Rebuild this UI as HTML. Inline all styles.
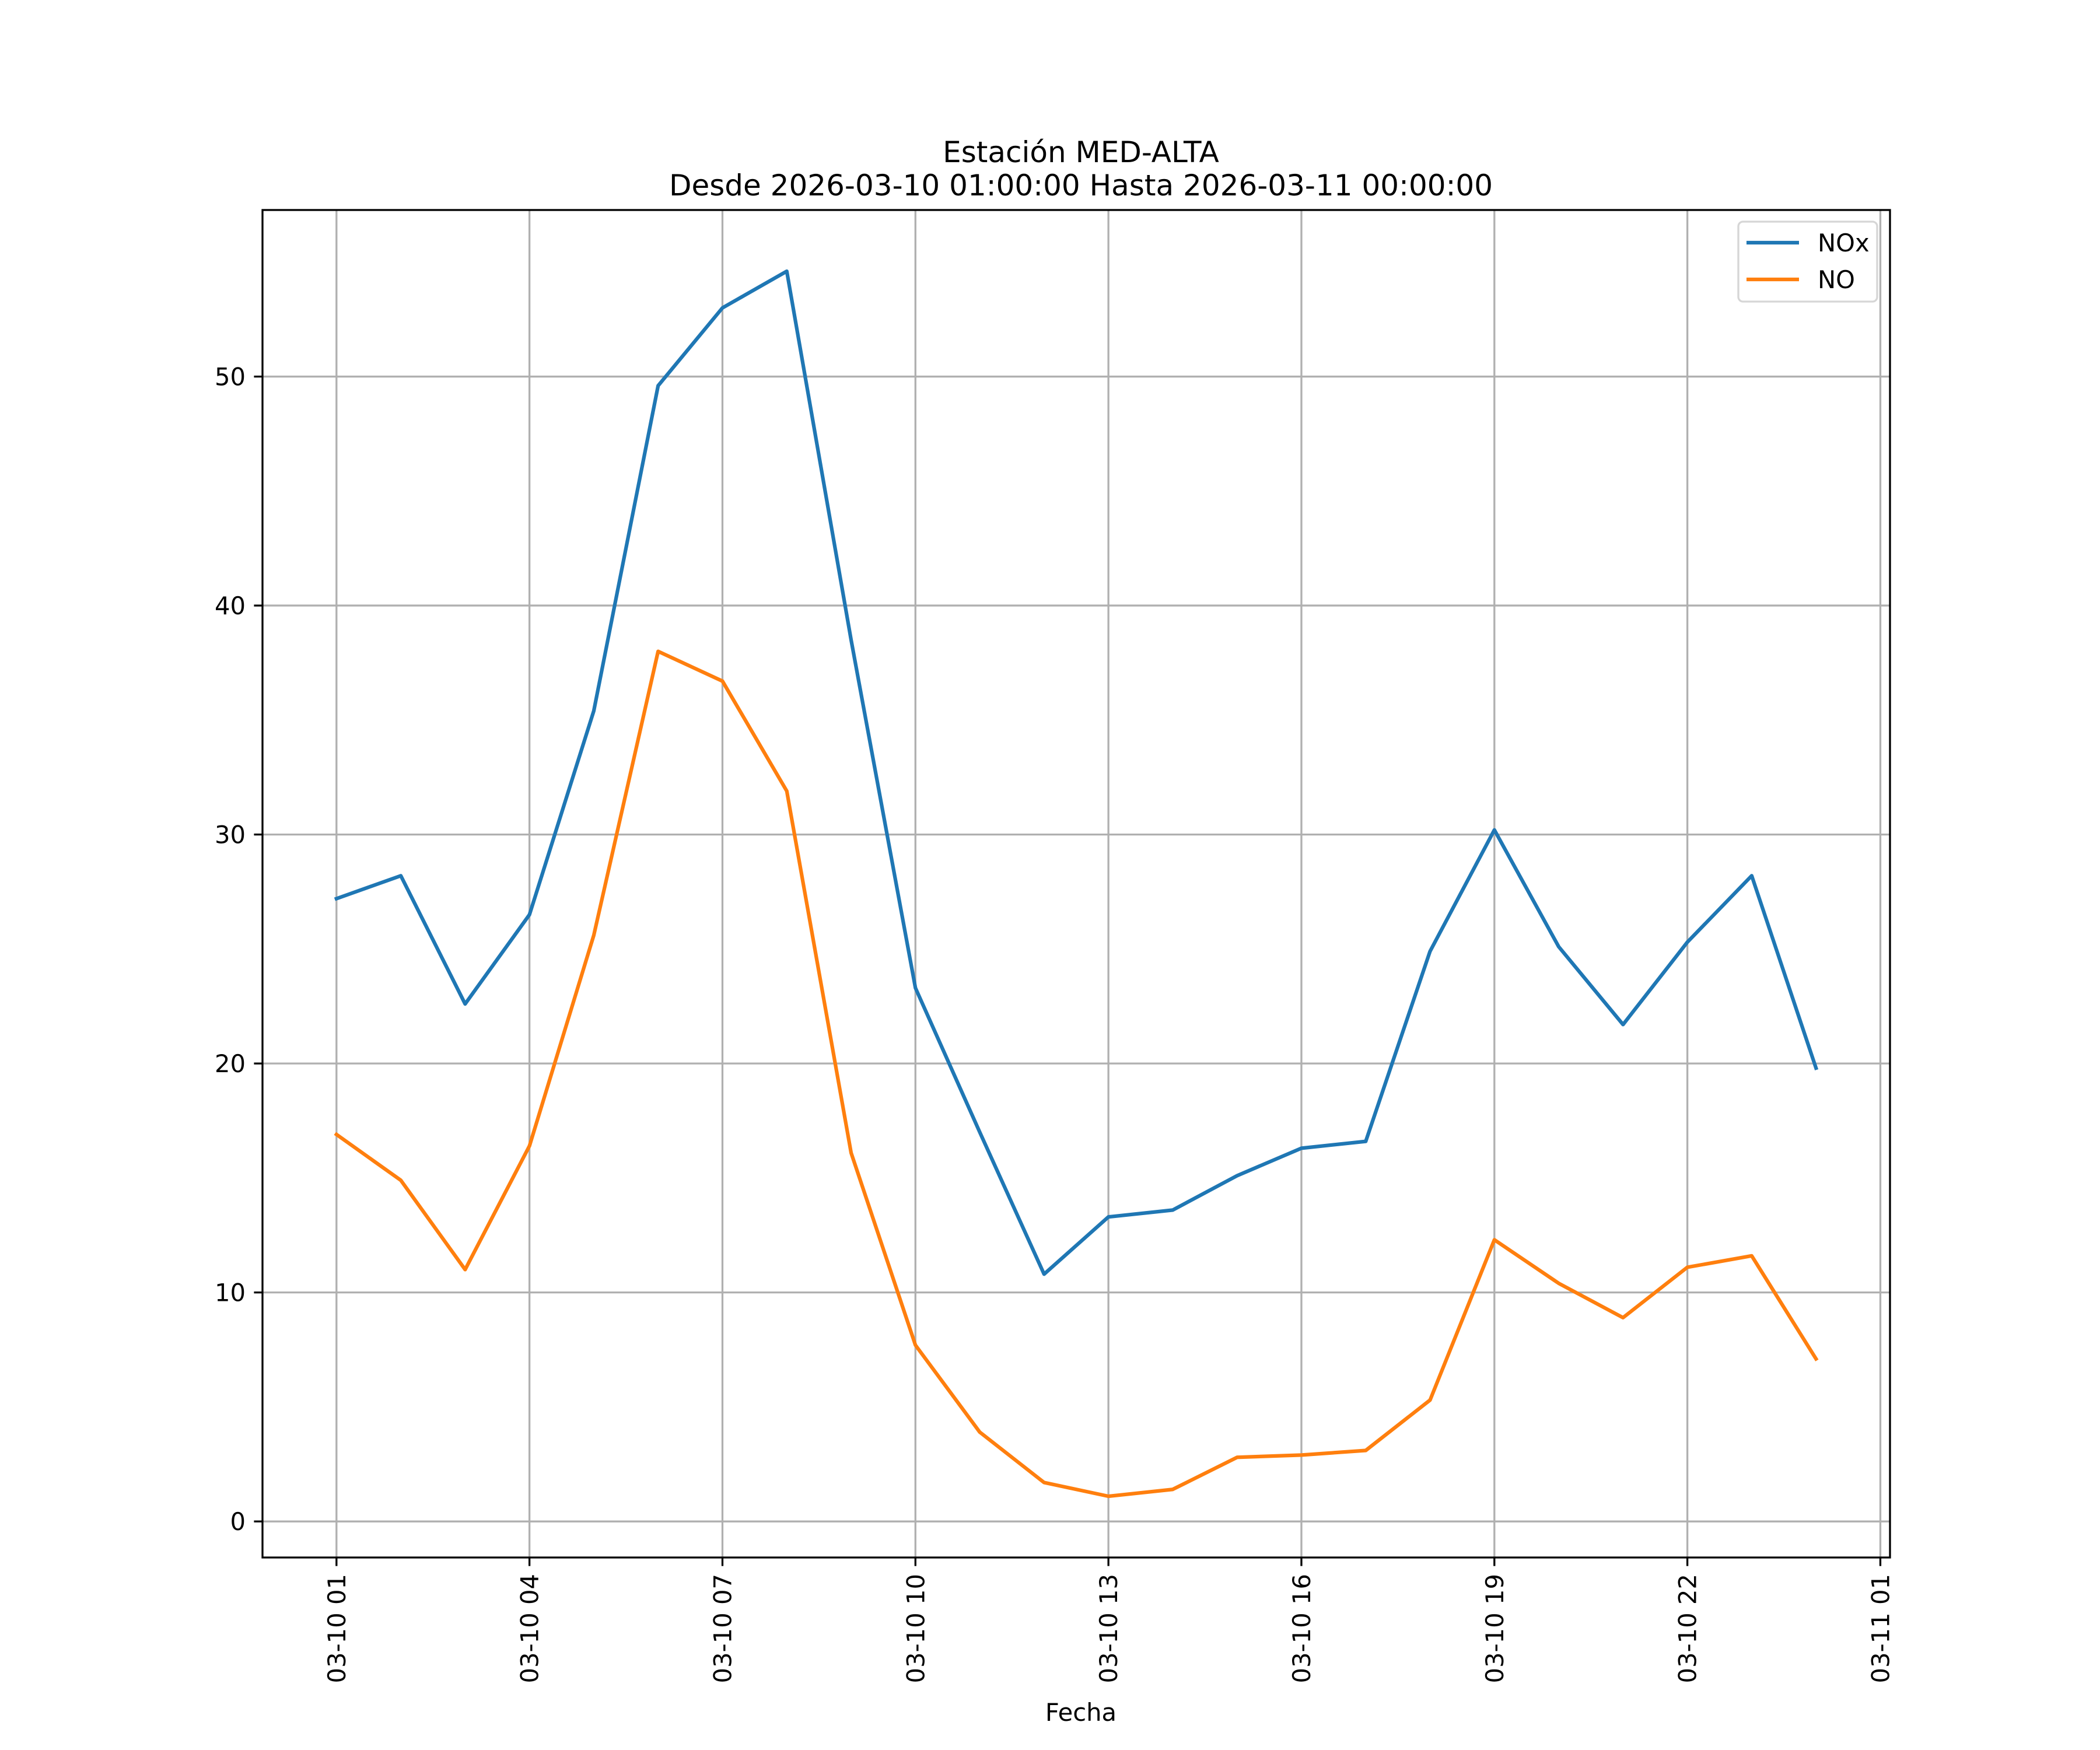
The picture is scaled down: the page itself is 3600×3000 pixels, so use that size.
<!DOCTYPE html>
<html><head><meta charset="utf-8"><style>html,body{margin:0;padding:0;background:#fff}svg{display:block}text{font-family:"DejaVu Sans","Liberation Sans",sans-serif;fill:#000}</style></head>
<body>
<svg id="chart" width="3600" height="3000" viewBox="0 0 3600 3000" xmlns="http://www.w3.org/2000/svg">
<rect width="3600" height="3000" fill="#fff"/>
<g id="grid"></g>
<g id="series"></g>
<rect x="450" y="360" width="2790" height="2310" fill="none" stroke="#000" stroke-width="3.3"/>
<g id="ticks"></g>
<text x="1853" y="278" font-size="50" text-anchor="middle">Estación MED-ALTA</text>
<text x="1853" y="335" font-size="50" text-anchor="middle">Desde 2026-03-10 01:00:00 Hasta 2026-03-11 00:00:00</text>
<text x="1853" y="2950" font-size="41.7" text-anchor="middle">Fecha</text>
<g>
<rect x="2980" y="380" width="238" height="137" rx="8" fill="#fff" fill-opacity="0.8" stroke="#d6d6d6" stroke-width="3.3"/>
<line x1="2994" y1="416" x2="3084" y2="416" stroke="#1f77b4" stroke-width="6.25"/>
<text x="3116" y="431" font-size="41.7">NOx</text>
<line x1="2994" y1="479" x2="3084" y2="479" stroke="#ff7f0e" stroke-width="6.25"/>
<text x="3116" y="494" font-size="41.7">NO</text>
</g>
</svg>
<script>
const hours = [1,2,3,4,5,6,7,8,9,10,11,12,13,14,15,16,17,18,19,20,21,22,23,24];
const noxValues = [27.2,28.2,22.6,26.5,35.4,49.6,53.0,54.6,38.5,23.3,17.0,10.8,13.3,13.6,15.1,16.3,16.6,24.9,30.2,25.1,21.7,25.3,28.2,19.8];
const noValues = [16.9,14.9,11.0,16.4,25.6,38.0,36.7,31.9,16.1,7.7,3.9,1.7,1.1,1.4,2.8,2.9,3.1,5.3,12.3,10.4,8.9,11.1,11.6,7.1];
const xTickHours = [1,4,7,10,13,16,19,22,25];
const xTickLabels = ["03-10 01","03-10 04","03-10 07","03-10 10","03-10 13","03-10 16","03-10 19","03-10 22","03-11 01"];
const yTicks = [0,10,20,30,40,50];

const NS="http://www.w3.org/2000/svg";
const all=noxValues.concat(noValues);
const ymin=Math.min(...all), ymax=Math.max(...all), yr=ymax-ymin;
const y0=ymin-0.05*yr, y1=ymax+0.05*yr;
const hmin=Math.min(...hours), hmax=Math.max(...hours), hr=hmax-hmin;
const x0=hmin-0.05*hr, x1=hmax+0.05*hr;
const L=450,R=3240,T=360,B=2670;
const xs=h=>L+(h-x0)/(x1-x0)*(R-L);
const ys=v=>B-(v-y0)/(y1-y0)*(B-T);
function mk(tag,attrs,parent,txt){const e=document.createElementNS(NS,tag);for(const k in attrs)e.setAttribute(k,attrs[k]);if(txt!==undefined)e.textContent=txt;document.getElementById(parent).appendChild(e);return e;}
xTickHours.forEach((h,i)=>{
  const x=xs(h);
  const g=mk('line',{x1:x,y1:T,x2:x,y2:B,stroke:'#b0b0b0','stroke-width':3.3},'grid');
  
  
  const t=mk('line',{x1:x,y1:B,x2:x,y2:B+14.6,stroke:'#000','stroke-width':3.3},'ticks');
  
  
  const lb=mk('text',{x:0,y:0,'font-size':41.7,'text-anchor':'end',transform:`translate(${x+15},${B+28}) rotate(-90)`},'ticks',xTickLabels[i]);
  
  
});
yTicks.forEach(v=>{
  const y=ys(v);
  const g=mk('line',{x1:L,y1:y,x2:R,y2:y,stroke:'#b0b0b0','stroke-width':3.3},'grid');
  
  
  const t=mk('line',{x1:L-14.6,y1:y,x2:L,y2:y,stroke:'#000','stroke-width':3.3},'ticks');
  
  
  const lb=mk('text',{x:L-29,y:y+15,'font-size':41.7,'text-anchor':'end'},'ticks',String(v));
  
  
});
function line(vals,color,name){
  const p=mk('polyline',{points:vals.map((v,i)=>xs(hours[i])+','+ys(v)).join(' '),fill:'none',stroke:color,'stroke-width':6.25,'stroke-linejoin':'round','stroke-linecap':'square'},'series');
  
  
}
line(noxValues,'#1f77b4','nox-line');
line(noValues,'#ff7f0e','no-line');
</script>
</body></html>
